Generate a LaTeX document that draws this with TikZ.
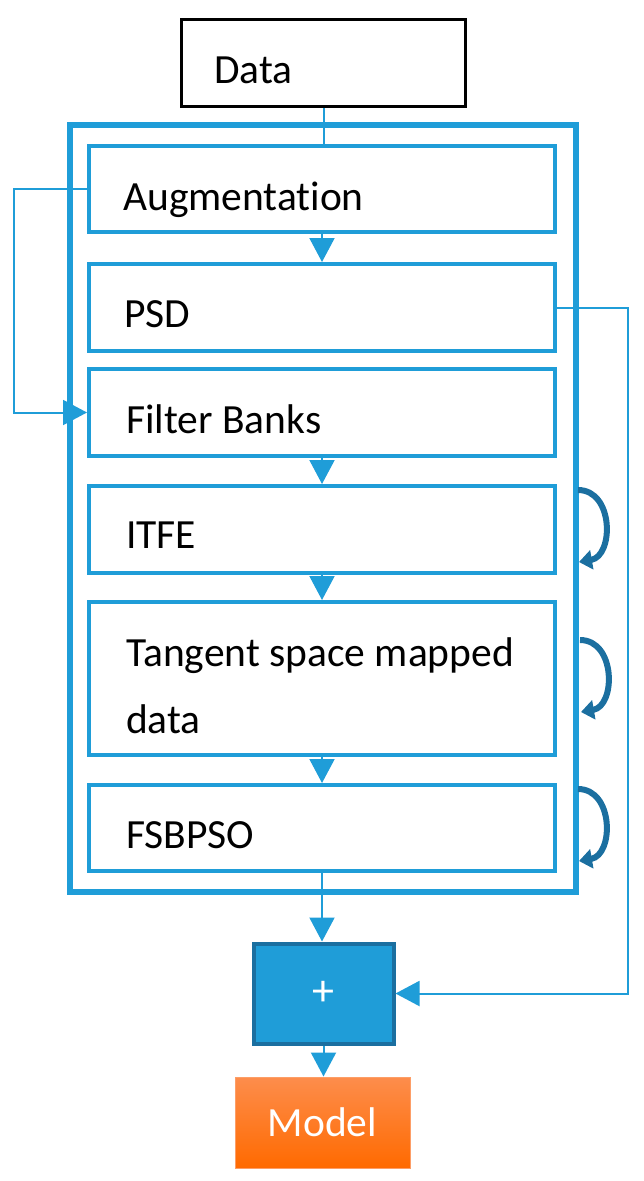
\documentclass[tikz,border=0pt]{standalone}
\usepackage{fontspec}
\setmainfont{Carlito}[Ligatures={NoCommon}]
\usetikzlibrary{arrows.meta}
\definecolor{cblue}{RGB}{31,157,216}
\definecolor{dblue}{RGB}{27,111,160}
\definecolor{otop}{RGB}{253,141,76}
\definecolor{obot}{RGB}{255,106,0}
\begin{document}
\begin{tikzpicture}[x=1pt,y=-1pt,
  box/.style={draw=cblue,line width=4pt,minimum width=466pt,inner sep=0pt},
  lbl/.style={anchor=base west,inner sep=0pt,font=\fontsize{41.5}{48}\selectfont},
  conn/.style={draw=cblue,line width=2pt},
  tri/.style={-{Triangle[width=25pt,length=24pt]},color=cblue},
  curv/.style={draw=dblue,line width=6pt,-{Triangle[width=19pt,length=13pt]}}]
\useasboundingbox (0,0) rectangle (643,1181);
% outer frame
\node[draw=cblue,line width=6pt,minimum width=506pt,minimum height=767pt,inner sep=0pt] (frame) at (322.5,508) {};
% data
\node[draw=black,line width=3.5pt,minimum width=284pt,minimum height=87pt,inner sep=0pt] (data) at (323.5,63) {};
\node[lbl] (tdata) at (214,83) {Data};
% boxes
\node[box,minimum height=86pt] (aug) at (322,189) {};
\node[box,minimum height=87pt] (psd) at (322,307.5) {};
\node[box,minimum height=87pt] (fb) at (322,412.5) {};
\node[box,minimum height=87pt] (itfe) at (322,529.5) {};
\node[box,minimum height=153pt] (tan) at (322,678.5) {};
\node[box,minimum height=86pt] (fsb) at (322,828) {};
\node[lbl] (taug) at (123,210) {Augmentation};
\node[lbl] (tpsd) at (124,327) {PSD};
\node[lbl] (tfb) at (126,433) {Filter Banks};
\node[lbl] (titfe) at (126,548) {ITFE};
\node[lbl] (ttan1) at (126,666) {Tangent space mapped};
\node[lbl] (ttan2) at (126,733) {data};
\node[lbl] (tfsb) at (126,848) {FSBPSO};
% plus and model
\node[fill=cblue,draw=dblue,line width=4pt,minimum width=140pt,minimum height=100pt,inner sep=0pt,
  text=white,font=\fontsize{44}{48}\selectfont] (plus) at (323.5,993.5) {+};
\node[top color=otop,bottom color=obot,draw=otop!85!white,line width=1pt,minimum width=175pt,minimum height=91pt,
  inner sep=0pt,text=white,font=\fontsize{41.5}{48}\selectfont] (model) at (322.5,1122.5) {Model};
% coordinates
\coordinate (lx) at (14,0);
\coordinate (rx) at (628,0);
% connectors
\draw[conn] (data.south) -- (data.south |- aug.north);
\draw[conn,tri] (aug.south) -- (psd.north);
\draw[conn,tri] (fb.south) -- (itfe.north);
\draw[conn,tri] (itfe.south) -- (tan.north);
\draw[conn,tri] (tan.south) -- (fsb.north);
\draw[conn,tri] (aug.west) -- (aug.west -| lx) |- (fb.west);
\draw[conn,tri] (psd.east) -- (psd.east -| rx) |- (plus.east);
\draw[conn,tri] (fsb.south) -- (fsb.south |- plus.north);
\draw[conn,tri] (plus.south) -- (plus.south |- model.north);
% self loops
\coordinate (a1) at (578,490); \coordinate (b1) at (579,562);
\coordinate (a2) at (580,640); \coordinate (b2) at (581,712);
\coordinate (a3) at (578,789); \coordinate (b3) at (579,861);
\draw[curv] (a1) .. controls (614,490) and (614,556) .. (b1);
\draw[curv] (a2) .. controls (616,640) and (616,706) .. (b2);
\draw[curv] (a3) .. controls (614,789) and (614,855) .. (b3);
\end{tikzpicture}
\end{document}
